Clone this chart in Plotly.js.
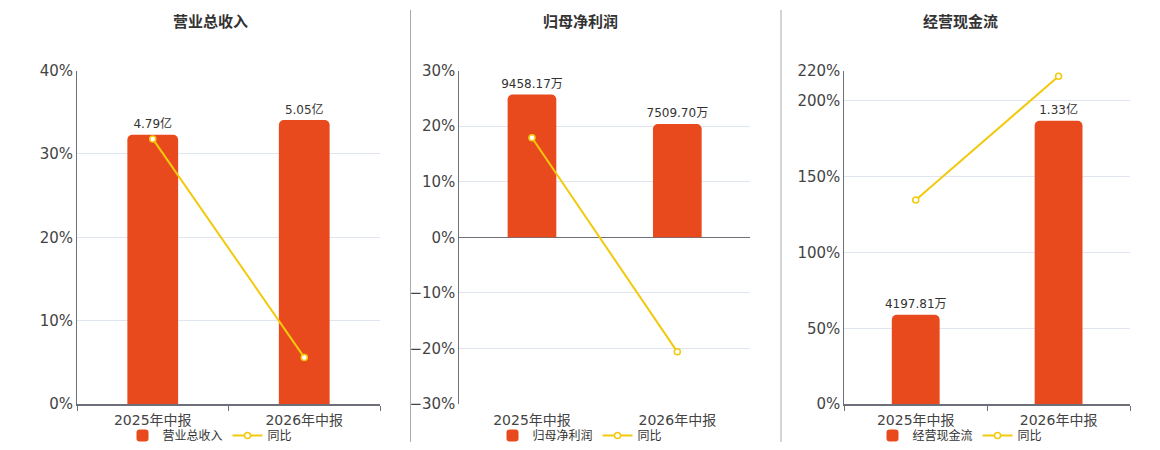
<!DOCTYPE html>
<html>
<head>
<meta charset="utf-8">
<script src="https://cdn.plot.ly/plotly-3.0.1.min.js"></script>
<style>
  html, body { margin: 0; padding: 0; background: #fff; }
  #myDiv { width: 1160px; height: 450px; }
</style>
</head>
<body>
<div id="myDiv"></div>
<script>
// categories
const periods = ["2025年中报", "2026年中报"];

// 营业总收入 (亿)
const revenue = [4.79, 5.05];
const revenueLabels = ["4.79亿", "5.05亿"];
const revenueYoy = [31.8, 5.6];

// 归母净利润 (万)
const profit = [9458.17, 7509.70];
const profitLabels = ["9458.17万", "7509.70万"];
const profitYoy = [17.9, -20.6];

// 经营现金流 (亿)
const cashflow = [0.419781, 1.33];
const cashflowLabels = ["4197.81万", "1.33亿"];
const cashflowYoy = [134.6, 216.3];

const titles = ["营业总收入", "归母净利润", "经营现金流"];
const cashTicks = [0, 50, 100, 150, 200, 220];
const cashTickLabels = ["0%", "50%", "100%", "150%", "200%", "220%"];

const barColor = "#E84A1D";
const lineColor = "#F3C90E";
const fontFamily = "'DejaVu Sans', 'Noto Sans CJK SC', sans-serif";

function barTrace(values, name, xa, ya, legend) {
    return {
        type: "bar",
        x: periods,
        y: values,
        marker: { color: barColor, cornerradius: 5 },
        name: name,
        xaxis: xa,
        yaxis: ya,
        legend: legend,
        hoverinfo: "none",
    };
}

// value labels above the bars, on the same hidden axis
// (invisible marker just pushes the text up a little)
function labelTrace(values, labels, xa, ya) {
    return {
        type: "scatter",
        mode: "markers+text",
        x: periods,
        y: values,
        text: labels,
        textposition: "top center",
        textfont: { size: 12, color: "#333" },
        marker: { size: 4, opacity: 0 },
        cliponaxis: false,
        showlegend: false,
        xaxis: xa,
        yaxis: ya,
        hoverinfo: "none",
    };
}

function lineTrace(values, xa, ya, legend) {
    return {
        type: "scatter",
        mode: "lines+markers",
        x: periods,
        y: values,
        name: "同比",
        line: { color: lineColor, width: 2 },
        marker: {
            symbol: "circle",
            size: 6,
            color: "#fff",
            line: { color: lineColor, width: 1.5 },
        },
        cliponaxis: false,
        xaxis: xa,
        yaxis: ya,
        legend: legend,
        hoverinfo: "none",
    };
}

const data = [
    barTrace(revenue, titles[0], "x", "y", "legend"),
    labelTrace(revenue, revenueLabels, "x", "y"),
    lineTrace(revenueYoy, "x", "y4", "legend"),
    barTrace(profit, titles[1], "x2", "y2", "legend2"),
    labelTrace(profit, profitLabels, "x2", "y2"),
    lineTrace(profitYoy, "x2", "y5", "legend2"),
    barTrace(cashflow, titles[2], "x3", "y3", "legend3"),
    labelTrace(cashflow, cashflowLabels, "x3", "y3"),
    lineTrace(cashflowYoy, "x3", "y6", "legend3"),
];

const W = 1160, H = 450;
const yDomain = [1 - 405 / H, 1 - 70.7 / H];

function xAxis(x0, x1, showLine) {
    return {
        type: "category",
        domain: [x0 / W, x1 / W],
        showgrid: false,
        showline: showLine,
        linecolor: "#6E7079",
        linewidth: 1.5,
        ticks: showLine ? "outside" : "",
        tickson: "boundaries",
        ticklen: 5,
        tickcolor: "#6E7079",
        ticklabelstandoff: showLine ? 3 : 6,
        tickfont: { size: 14, color: "#444" },
        fixedrange: true,
    };
}

function hiddenAxis(anchor, range) {
    return {
        anchor: anchor,
        domain: yDomain,
        range: range,
        showgrid: false,
        zeroline: false,
        showticklabels: false,
        showline: false,
        fixedrange: true,
    };
}

function pctAxis(anchor, over, range, extra) {
    return Object.assign({
        anchor: anchor,
        overlaying: over,
        side: "left",
        range: range,
        ticksuffix: "%",
        showgrid: true,
        gridcolor: "#E0E6F1",
        zeroline: false,
        showline: true,
        linecolor: "#6E7079",
        linewidth: 1,
        ticks: "",
        tickfont: { size: 15, color: "#444" },
        fixedrange: true,
    }, extra || {});
}

function legendAt(cx) {
    return {
        orientation: "h",
        x: cx / W,
        xanchor: "center",
        y: 1 - 436 / H,
        yanchor: "middle",
        font: { size: 12, color: "#333" },
        bgcolor: "rgba(0,0,0,0)",
        itemclick: false,
        itemdoubleclick: false,
        tracegroupgap: 0,
    };
}

const layout = {
    width: W,
    height: H,
    margin: { l: 0, r: 0, t: 0, b: 0 },
    paper_bgcolor: "white",
    plot_bgcolor: "white",
    font: { family: fontFamily, color: "#333" },
    bargap: 0.665,
    showlegend: true,
    xaxis: xAxis(77, 380, true),
    xaxis2: Object.assign(xAxis(459.3, 750, false), { anchor: "y2" }),
    xaxis3: Object.assign(xAxis(844.3, 1130, true), { anchor: "y3" }),
    yaxis: hiddenAxis("x", [0, 5.93]),
    yaxis2: hiddenAxis("x2", [-11050, 11050]),
    yaxis3: hiddenAxis("x3", [0, 1.566]),
    yaxis4: pctAxis("x", "y", [0, 40], { dtick: 10 }),
    yaxis5: pctAxis("x2", "y2", [-30, 30], {
        dtick: 10,
        zeroline: true,
        zerolinecolor: "#6E7079",
        zerolinewidth: 1.5,
    }),
    yaxis6: pctAxis("x3", "y3", [0, 220], {
        tickmode: "array",
        tickvals: cashTicks,
        ticktext: cashTickLabels,
        ticksuffix: "",
    }),
    legend: legendAt(210),
    legend2: legendAt(580),
    legend3: legendAt(960),
    annotations: titles.map((t, i) => ({
        text: "<b>" + t + "</b>",
        xref: "paper",
        yref: "paper",
        x: [210, 580, 960][i] / W,
        y: 1 - 22 / H,
        xanchor: "center",
        yanchor: "middle",
        showarrow: false,
        font: { size: 15, color: "#333" },
    })),
    shapes: [410.5, 781].map((px) => ({
        type: "line",
        xref: "paper",
        yref: "paper",
        x0: px / W,
        x1: px / W,
        y0: 1 - 443 / H,
        y1: 1 - 10 / H,
        line: { color: "#AAAAAA", width: 1 },
    })),
};

Plotly.newPlot("myDiv", data, layout, { displayModeBar: false, staticPlot: true });
</script>
</body>
</html>
